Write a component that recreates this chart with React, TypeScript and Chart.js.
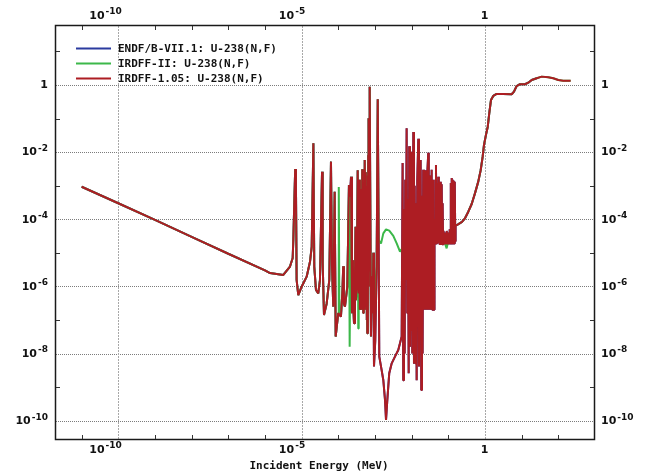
import React, { useEffect, useRef } from 'react';
import { Chart, registerables } from 'chart.js';

Chart.register(...registerables);

const W = 649;
const H = 475;

// ---- axis limits (MeV, barns) ----
const xMin = 2.0e-12;
const xMax = 940;
const yMin = 2.85e-11;
const yMax = 57;

// ---- thermal region (shared) ----
const lowE = [1e-11, 1e-10, 1e-9, 1e-8, 1e-7, 1e-6];
const lowXS = [9.3e-4, 3.0e-4, 9.6e-5, 3.0e-5, 9.4e-6, 3.0e-6];

// ---- resolved resonances, IRDFF-1.05 / ENDF/B-VII.1 (below 1.2 keV) ----
const resLoE = [
  1.37e-6, 3.16e-6, 4.81e-6, 5.7e-6, 5.93e-6, 6.67e-6, 7.0e-6, 7.3e-6, 8.1e-6, 1.0e-5,
  1.37e-5, 1.69e-5, 1.88e-5, 2.09e-5, 2.21e-5, 2.46e-5, 2.84e-5, 3.16e-5, 3.6e-5, 3.75e-5,
  4.07e-5, 4.82e-5, 5.68e-5, 6.31e-5, 6.73e-5, 7.3e-5, 7.96e-5, 8.48e-5, 9.97e-5, 1.18e-4,
  1.3e-4, 1.36e-4, 1.42e-4, 1.52e-4, 1.76e-4, 1.95e-4, 2.08e-4, 2.22e-4, 2.36e-4, 2.5e-4,
  2.55e-4, 2.68e-4, 2.85e-4, 2.95e-4, 3.03e-4, 3.2e-4, 3.38e-4, 3.5e-4, 3.6e-4, 3.75e-4,
  3.82e-4, 3.9e-4, 4.02e-4, 4.08e-4, 4.15e-4, 4.3e-4, 4.38e-4, 4.5e-4, 4.58e-4, 4.65e-4,
  4.8e-4, 4.92e-4, 5.05e-4, 5.17e-4, 5.25e-4, 5.34e-4, 5.45e-4, 5.52e-4, 5.69e-4, 5.85e-4,
  5.95e-4, 6.05e-4, 6.17e-4, 6.35e-4, 6.45e-4, 6.55e-4, 6.65e-4, 6.73e-4, 6.9e-4, 7.18e-4,
  7.78e-4, 8.2e-4, 8.65e-4, 9.0e-4, 9.4e-4, 1.02e-3, 1.11e-3, 1.19e-3,
];
const resLoXS = [
  2.5e-6, 2.2e-6, 3.9e-6, 7.0e-6, 2.4e-5, 3.15e-3, 9.3e-4, 1.55e-6, 5.5e-7, 9.8e-7,
  1.95e-6, 5.4e-6, 1.5e-5, 1.83e-2, 3.9e-6, 7.8e-7, 6.2e-7, 1.55e-6, 2.6e-3, 4.9e-6,
  1.4e-7, 3.1e-7, 1.55e-6, 5.2e-3, 3.9e-6, 2.5e-7, 6.6e-4, 3.2e-8, 1.6e-7, 1.25e-7,
  8.0e-7, 4.0e-6, 3.0e-7, 2.5e-7, 9.8e-7, 1.05e-3, 4.7e-4, 1.85e-3, 1.6e-7, 6.0e-6,
  3.0e-7, 8.0e-8, 2.0e-6, 6.0e-5, 3.9e-7, 1.5e-6, 2.9e-3, 1.0e-6, 6.2e-7, 1.5e-3,
  2.0e-7, 1.2e-4, 3.0e-7, 8.0e-4, 2.0e-7, 6.0e-4, 4.0e-7, 3.1e-3, 2.0e-7, 2.0e-3,
  1.6e-7, 1.2e-3, 3.0e-7, 4.0e-4, 2.0e-7, 5.8e-3, 3.0e-7, 2.5e-3, 2.5e-7, 1.0e-3,
  1.0e-7, 3.0e-4, 4.0e-8, 2.0e-3, 2.0e-7, 8.0e-3, 1.0e-6, 0.102, 3.0e-6, 0.89,
  3.2e-8, 2.0e-6, 1.6e-7, 1.0e-5, 4.1e-9, 2.5e-8, 3.9e-6, 0.375,
];

// ---- interference valley and keV resonances, IRDFF-1.05 / ENDF/B-VII.1 ----
const resHiE = [
  1.26e-3, 1.31e-3, 1.52e-3, 1.69e-3, 1.88e-3, 2.0e-3, 2.17e-3, 2.45e-3, 2.86e-3, 3.51e-3,
  4.32e-3, 5.35e-3, 5.67e-3, 5.9e-3, 6.18e-3, 6.46e-3, 6.7e-3, 7.01e-3, 7.3e-3, 7.6e-3,
  7.95e-3, 8.3e-3, 8.6e-3, 9.01e-3, 9.4e-3, 9.8e-3, 1.0e-2, 1.04e-2, 1.11e-2, 1.158e-2,
  1.21e-2, 1.26e-2, 1.313e-2, 1.37e-2, 1.425e-2, 1.52e-2, 1.585e-2, 1.66e-2, 1.76e-2, 1.83e-2,
  1.914e-2, 1.99e-2, 2.07e-2, 2.17e-2, 2.24e-2, 2.311e-2, 2.385e-2, 2.46e-2, 2.54e-2, 2.62e-2,
  2.7e-2, 2.84e-2, 2.93e-2, 3.02e-2, 3.12e-2, 3.22e-2, 3.32e-2, 3.51e-2, 3.65e-2, 3.76e-2,
  3.88e-2, 4.0e-2, 4.13e-2, 4.2e-2, 4.35e-2, 4.61e-2, 4.76e-2, 4.91e-2, 5.07e-2, 5.34e-2,
  5.5e-2, 5.7e-2, 5.87e-2, 6.05e-2, 6.23e-2, 6.6e-2, 6.8e-2, 7.0e-2, 7.2e-2, 7.4e-2,
  7.7e-2, 8.0e-2, 8.25e-2, 8.5e-2, 8.8e-2, 9.05e-2, 9.35e-2, 9.65e-2, 9.95e-2, 0.1025,
  0.106, 0.109, 0.113, 0.117, 0.12, 0.124, 0.128, 0.132, 0.137, 0.141,
  0.146, 0.15, 0.155, 0.158,
];
const resHiXS = [
  2.4e-5, 8.1e-9, 3.2e-9, 1.6e-9, 4.1e-10, 1.05e-10, 4.1e-10, 2.6e-9, 5.1e-9, 8.1e-9,
  1.28e-8, 3.2e-8, 4.7e-3, 1.6e-9, 2.0e-4, 1.0e-8, 1.5e-3, 1.55e-6, 5.1e-2, 1.6e-7,
  4.0e-4, 2.6e-9, 1.5e-2, 1.6e-8, 2.0e-3, 5.0e-8, 1.03e-2, 1.0e-8, 4.0e-2, 5.0e-9,
  1.0e-3, 5.1e-9, 3.0e-4, 1.6e-9, 1.5e-3, 2.5e-2, 4.1e-9, 1.0e-3, 5.8e-3, 8.2e-10,
  5.0e-4, 1.0e-8, 3.0e-3, 2.0e-7, 2.1e-3, 2.0e-7, 2.9e-3, 2.0e-7, 1.5e-3, 2.0e-7,
  3.0e-3, 9.6e-3, 2.0e-7, 2.0e-3, 2.0e-7, 1.5e-3, 2.0e-7, 3.0e-3, 2.0e-7, 1.5e-3,
  2.0e-7, 1.5e-3, 2.0e-7, 1.0e-4, 1.9e-5, 4.1e-3, 1.9e-5, 1.2e-3, 1.9e-5, 1.85e-3,
  1.9e-5, 8.0e-4, 1.7e-5, 1.3e-3, 1.7e-5, 1.1e-3, 1.8e-5, 3.0e-4, 1.8e-5, 4.5e-5,
  1.9e-5, 4.0e-5, 1.9e-5, 4.0e-5, 1.9e-5, 4.5e-5, 1.9e-5, 4.0e-5, 1.9e-5, 4.0e-5,
  1.9e-5, 5.0e-5, 1.9e-5, 1.2e-3, 1.9e-5, 1.7e-3, 1.9e-5, 1.5e-3, 1.9e-5, 1.4e-3,
  1.9e-5, 1.3e-3, 2.2e-5, 6.4e-5,
];

// ---- resolved resonances, IRDFF-II (below 1.2 keV) ----
const res2LoE = [
  1.37e-6, 3.16e-6, 4.81e-6, 5.7e-6, 5.93e-6, 6.67e-6, 7.0e-6, 7.3e-6, 8.1e-6, 1.0e-5,
  1.37e-5, 1.69e-5, 1.88e-5, 2.09e-5, 2.21e-5, 2.46e-5, 2.84e-5, 3.16e-5, 3.6e-5, 3.75e-5,
  4.07e-5, 4.82e-5, 5.68e-5, 6.31e-5, 6.73e-5, 7.3e-5, 7.96e-5, 8.48e-5, 9.97e-5, 1.02e-4,
  1.04e-4, 1.07e-4, 1.18e-4, 1.3e-4, 1.36e-4, 1.42e-4, 1.52e-4, 1.76e-4, 1.95e-4, 2.04e-4,
  2.22e-4, 2.36e-4, 2.5e-4, 2.55e-4, 2.68e-4, 2.85e-4, 2.95e-4, 3.03e-4, 3.2e-4, 3.38e-4,
  3.5e-4, 3.6e-4, 3.75e-4, 3.82e-4, 3.9e-4, 4.02e-4, 4.08e-4, 4.15e-4, 4.3e-4, 4.38e-4,
  4.5e-4, 4.58e-4, 4.65e-4, 4.8e-4, 4.92e-4, 5.05e-4, 5.17e-4, 5.25e-4, 5.34e-4, 5.45e-4,
  5.52e-4, 5.69e-4, 5.85e-4, 5.95e-4, 6.05e-4, 6.17e-4, 6.35e-4, 6.45e-4, 6.55e-4, 6.65e-4,
  6.73e-4, 6.9e-4, 7.18e-4, 7.78e-4, 8.2e-4, 8.65e-4, 9.0e-4, 9.4e-4, 1.02e-3, 1.11e-3,
  1.19e-3,
];
const res2LoXS = [
  2.5e-6, 2.2e-6, 3.9e-6, 7.0e-6, 2.4e-5, 3.15e-3, 9.3e-4, 1.55e-6, 5.5e-7, 9.8e-7,
  1.95e-6, 5.4e-6, 1.5e-5, 1.83e-2, 3.9e-6, 7.8e-7, 6.2e-7, 1.55e-6, 2.6e-3, 4.9e-6,
  1.4e-7, 3.1e-7, 1.55e-6, 5.2e-3, 3.9e-6, 2.5e-7, 6.6e-4, 3.2e-8, 1.6e-7, 2.0e-7,
  9.2e-4, 2.0e-7, 1.25e-7, 8.0e-7, 4.0e-6, 3.0e-7, 2.5e-7, 9.8e-7, 1.05e-3, 1.6e-8,
  1.85e-3, 1.6e-7, 6.0e-6, 3.0e-7, 8.0e-8, 2.0e-6, 6.0e-5, 3.9e-7, 1.5e-6, 2.9e-3,
  5.6e-8, 6.2e-7, 1.5e-3, 2.0e-7, 1.2e-4, 3.0e-7, 8.0e-4, 2.0e-7, 6.0e-4, 4.0e-7,
  3.1e-3, 2.0e-7, 2.0e-3, 1.6e-7, 1.2e-3, 3.0e-7, 4.0e-4, 2.0e-7, 5.8e-3, 3.0e-7,
  2.5e-3, 2.5e-7, 1.0e-3, 1.0e-7, 3.0e-4, 4.0e-8, 2.0e-3, 2.0e-7, 8.0e-3, 1.0e-6,
  0.102, 3.0e-6, 0.89, 3.2e-8, 2.0e-6, 1.6e-7, 1.0e-5, 1.0e-7, 1.0e-6, 3.9e-6,
  0.375,
];

// ---- smooth unresolved region, IRDFF-II ----
const res2HiE = [
  1.26e-3, 1.46e-3, 1.69e-3, 2.0e-3, 2.45e-3, 3.16e-3, 3.91e-3, 4.81e-3, 7.3e-3, 1.11e-2,
  1.52e-2, 2.07e-2, 2.57e-2, 3.89e-2, 5.93e-2, 9.0e-2, 0.111, 0.152,
];
const res2HiXS = [
  2.4e-5, 1.9e-5, 3.8e-5, 5.0e-5, 4.6e-5, 3.2e-5, 1.9e-5, 1.08e-5, 2.15e-5, 2.7e-5,
  6.0e-5, 1.5e-4, 6.0e-5, 7.6e-5, 5.4e-5, 1.36e-5, 3.8e-5, 6.4e-5,
];

// ---- fast region (shared) ----
const fastE = [
  0.184, 0.236, 0.285, 0.351, 0.434, 0.533, 0.656, 0.764, 0.865, 0.94,
  1.06, 1.19, 1.31, 1.46, 1.68, 2.08, 3.16, 5.35, 6.18, 7.3,
  9.0, 12.3, 15.2, 18.8, 25.7, 35.2, 53.2, 72.9, 99.8, 136, 217,
];
const fastXS = [
  7.0e-5, 8.3e-5, 1.07e-4, 1.68e-4, 2.85e-4, 5.9e-4, 1.32e-3, 2.9e-3, 7.3e-3, 1.63e-2,
  3.2e-2, 5.7e-2, 0.144, 0.357, 0.47, 0.54, 0.54, 0.53, 0.63, 0.93,
  1.05, 1.05, 1.17, 1.41, 1.58, 1.77, 1.7, 1.58, 1.41, 1.34, 1.34,
];
const endfMaxE = 30;

// ---- labels ----
const seriesNames = ['ENDF/B-VII.1: U-238(N,F)', 'IRDFF-II: U-238(N,F)', 'IRDFF-1.05: U-238(N,F)'];
const seriesColors = ['#2b3b9f', '#3cb84a', '#ad1d23'];
const xTitle = 'Incident Energy (MeV)';

const xLabelValues = [1e-10, 1e-5, 1];
const xLabelBase = ['10', '10', '1'];
const xLabelExp = ['-10', '-5', ''];
const xMinorTicks = [1e-11, 1e-9, 1e-8, 1e-7, 1e-6, 1e-4, 1e-3, 1e-2, 1e-1, 10, 100];

const yLabelValues = [1, 1e-2, 1e-4, 1e-6, 1e-8, 1e-10];
const yLabelBase = ['1', '10', '10', '10', '10', '10'];
const yLabelExp = ['', '-2', '-4', '-6', '-8', '-10'];
const yMinorTicks = [10, 0.1, 1e-3, 1e-5, 1e-7, 1e-9];

const BASE_FONT = 'bold 11px "DejaVu Sans"';
const SUP_FONT = 'bold 9px "DejaVu Sans"';
const MONO_FONT = 'bold 11px "DejaVu Sans Mono"';

function pts(es: number[], vs: number[]) {
  return es.map((e, i) => ({ x: e, y: vs[i] }));
}

function drawPow(ctx: CanvasRenderingContext2D, base: string, exp: string, x: number, y: number, align: 'left' | 'right') {
  ctx.font = BASE_FONT;
  const bw = ctx.measureText(base).width;
  ctx.font = SUP_FONT;
  const sw = exp ? ctx.measureText(exp).width + 1 : 0;
  const total = bw + sw;
  const x0 = align === 'right' ? x - total : x;
  ctx.textAlign = 'left';
  ctx.textBaseline = 'middle';
  ctx.fillStyle = '#111';
  ctx.font = BASE_FONT;
  ctx.fillText(base, x0, y);
  if (exp) {
    ctx.font = SUP_FONT;
    ctx.fillText(exp, x0 + bw + 1, y - 4);
  }
}

const framePlugin = {
  id: 'framePlugin',
  beforeDatasetsDraw(chart: any) {
    const { ctx, chartArea: a, scales } = chart;
    const xs = scales.x;
    const ys = scales.y;
    ctx.save();
    ctx.lineWidth = 1;
    ctx.strokeStyle = '#7c7c7c';
    ctx.setLineDash([1, 1]);
    for (const v of yLabelValues) {
      const py = Math.round(ys.getPixelForValue(v)) + 0.5;
      ctx.beginPath();
      ctx.moveTo(a.left, py);
      ctx.lineTo(a.right, py);
      ctx.stroke();
    }
    ctx.strokeStyle = '#a8a8a8';
    ctx.setLineDash([2, 1]);
    for (const v of xLabelValues) {
      const px = Math.round(xs.getPixelForValue(v)) + 0.5;
      ctx.beginPath();
      ctx.moveTo(px, a.top);
      ctx.lineTo(px, a.bottom);
      ctx.stroke();
    }
    ctx.restore();
  },
  afterDatasetsDraw(chart: any) {
    const { ctx, chartArea: a, scales } = chart;
    const xs = scales.x;
    const ys = scales.y;
    ctx.save();
    ctx.setLineDash([]);
    ctx.strokeStyle = '#1a1a1a';
    ctx.lineWidth = 1.5;
    ctx.strokeRect(a.left - 0.5, a.top - 0.5, a.right - a.left + 1, a.bottom - a.top + 1);
    ctx.lineWidth = 1;
    ctx.strokeStyle = '#333';
    for (const v of xMinorTicks) {
      const px = Math.round(xs.getPixelForValue(v)) + 0.5;
      ctx.beginPath();
      ctx.moveTo(px, a.bottom);
      ctx.lineTo(px, a.bottom - 4);
      ctx.moveTo(px, a.top);
      ctx.lineTo(px, a.top + 4);
      ctx.stroke();
    }
    for (const v of yMinorTicks) {
      const py = Math.round(ys.getPixelForValue(v)) + 0.5;
      ctx.beginPath();
      ctx.moveTo(a.left, py);
      ctx.lineTo(a.left + 4, py);
      ctx.moveTo(a.right, py);
      ctx.lineTo(a.right - 4, py);
      ctx.stroke();
    }
    xLabelValues.forEach((v, i) => {
      const px = xs.getPixelForValue(v) + 3.5;
      drawPow(ctx, xLabelBase[i], xLabelExp[i], px, a.bottom + 11, 'right');
      drawPow(ctx, xLabelBase[i], xLabelExp[i], px, a.top - 10, 'right');
    });
    yLabelValues.forEach((v, i) => {
      const py = ys.getPixelForValue(v) + 0.5;
      drawPow(ctx, yLabelBase[i], yLabelExp[i], a.left - 8, py, 'right');
      drawPow(ctx, yLabelBase[i], yLabelExp[i], a.right + 7, py, 'left');
    });
    ctx.font = MONO_FONT;
    ctx.fillStyle = '#111';
    ctx.textAlign = 'center';
    ctx.textBaseline = 'middle';
    ctx.fillText(xTitle, 319, a.bottom + 27);
    seriesNames.forEach((name, i) => {
      const ly = a.top + 22.5 + i * 15;
      ctx.strokeStyle = seriesColors[i];
      ctx.lineWidth = 2;
      ctx.beginPath();
      ctx.moveTo(a.left + 20, ly);
      ctx.lineTo(a.left + 55, ly);
      ctx.stroke();
      ctx.font = MONO_FONT;
      ctx.fillStyle = '#111';
      ctx.textAlign = 'left';
      ctx.textBaseline = 'middle';
      ctx.fillText(name, a.left + 62, ly + 0.5);
    });
    ctx.restore();
  },
};

export default function App() {
  const ref = useRef<HTMLCanvasElement>(null);
  useEffect(() => {
    const res105 = pts(resLoE, resLoXS).concat(pts(resHiE, resHiXS));
    const endfData = pts(lowE, lowXS)
      .concat(res105)
      .concat(pts(fastE, fastXS).filter((p) => p.x <= endfMaxE));
    const irdff2Data = pts(lowE, lowXS)
      .concat(pts(res2LoE, res2LoXS))
      .concat(pts(res2HiE, res2HiXS))
      .concat(pts(fastE, fastXS));
    const irdff105Data = pts(lowE, lowXS).concat(res105).concat(pts(fastE, fastXS));
    const datas = [endfData, irdff2Data, irdff105Data];
    const chart = new Chart(ref.current as HTMLCanvasElement, {
      type: 'line',
      data: {
        datasets: datas.map((d, i) => ({
          label: seriesNames[i],
          data: d,
          borderColor: seriesColors[i],
          backgroundColor: seriesColors[i],
          borderWidth: 2,
          pointRadius: 0,
          tension: 0,
          fill: false,
          borderJoinStyle: 'bevel' as const,
          order: 2 - i,
        })),
      },
      options: {
        responsive: false,
        animation: false,
        devicePixelRatio: 1,
        layout: { padding: { left: 56, right: W - 594, top: 26, bottom: H - 439 } },
        plugins: { legend: { display: false }, tooltip: { enabled: false } },
        scales: {
          x: { type: 'logarithmic', display: false, min: xMin, max: xMax, bounds: 'data' },
          y: { type: 'logarithmic', display: false, min: yMin, max: yMax, bounds: 'data' },
        },
      },
      plugins: [framePlugin],
    } as any);
    return () => chart.destroy();
  }, []);
  return (
    <div style={{ position: 'absolute', left: 0, top: 0, width: W, height: H, background: '#fff' }}>
      <canvas ref={ref} width={W} height={H} style={{ width: W, height: H, display: 'block' }} />
    </div>
  );
}
